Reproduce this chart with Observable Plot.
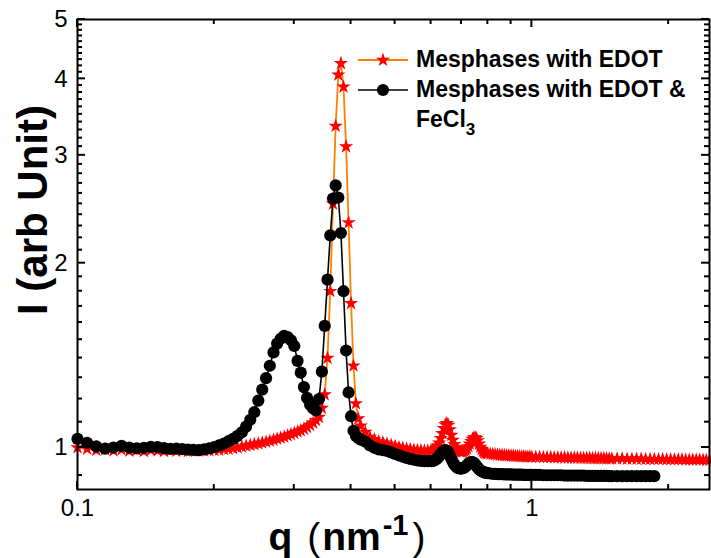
<!DOCTYPE html>
<html><head><meta charset="utf-8">
<script src="https://cdn.jsdelivr.net/npm/d3@7"></script>
<script src="https://cdn.jsdelivr.net/npm/@observablehq/plot@0.6"></script>
<style>
body{margin:0;background:#fff}
svg{font-family:"Liberation Sans",Arial,sans-serif}
</style>
</head><body><div id="chart"></div>
<script>
// ---- data (q in nm^-1, intensity in arb. units) ----
const qLow = [
0.100,0.105,0.110,0.115,0.120,0.125,0.130,0.135,0.140,0.145,
0.150,0.155,0.160,0.165,0.170,0.175,0.180,0.185,0.190,0.195,
0.200,0.205,0.210,0.215,0.220,0.225,0.230,0.235,0.240,0.245,
0.250,0.255,0.260,0.265,0.270,0.275,0.280,0.285,0.290,0.295,
0.300,0.305,0.310,0.315,0.320,0.325,0.330,0.335,0.340,0.345,
0.350,0.355,0.360,0.365,0.370,0.375,0.380,0.385,0.390,0.395,
0.400,0.405,0.410,0.415,0.420];
const edotLow = [
1.000,0.995,0.990,0.993,0.988,0.992,0.987,0.990,0.986,0.990,
0.988,0.986,0.989,0.987,0.988,0.986,0.988,0.987,0.988,0.989,
0.990,0.991,0.993,0.995,0.997,1.000,1.003,1.006,1.009,1.012,
1.015,1.018,1.021,1.025,1.029,1.033,1.037,1.041,1.046,1.051,
1.056,1.061,1.066,1.073,1.080,1.088,1.097,1.108,1.121,1.160,
1.220,1.400,1.800,2.500,3.350,4.060,4.240,3.880,3.100,2.330,
1.720,1.360,1.180,1.115,1.085];
const fecl3Low = [
1.033,1.018,1.004,0.996,1.000,1.006,1.000,0.997,0.999,1.003,
1.002,0.998,0.995,0.996,0.994,0.992,0.991,0.990,0.993,0.997,
1.002,1.008,1.015,1.024,1.033,1.045,1.059,1.082,1.110,1.142,
1.193,1.243,1.298,1.360,1.430,1.478,1.505,1.522,1.515,1.497,
1.465,1.385,1.325,1.255,1.205,1.175,1.158,1.150,1.200,1.330,
1.580,1.880,2.220,2.550,2.680,2.560,2.240,1.800,1.440,1.230,
1.125,1.065,1.045,1.037,1.030];
const qHigh = [
0.43,0.44,0.45,0.46,0.47,0.48,0.49,0.50,0.51,0.52,0.53,0.54,0.55,0.56,0.57,0.58,0.59,0.60,
0.605,0.61,0.615,0.62,0.625,0.63,0.635,0.64,0.645,0.65,0.655,0.66,0.665,0.67,0.675,0.68,0.685,0.69,0.695,0.70,
0.705,0.71,0.715,0.72,0.725,0.73,0.735,0.74,0.745,0.75,0.755,0.76,0.765,0.77,0.775,0.78,0.785,0.79,0.795,0.80,
0.81,0.82,0.83,0.84,0.85,0.86,0.87,0.88,0.89,0.90,0.91,0.92,0.93,0.94,0.95,0.96,0.97,0.98,0.99,1.00,
1.02,1.04,1.06,1.08,1.10,1.12,1.14,1.16,1.18,1.20,1.22,1.24,1.26,1.28,1.30,1.32,1.34,1.36,1.38,1.40,1.42,1.44,1.46,1.48,1.50,
1.54,1.58,1.62,1.66,1.70,1.74,1.78,1.82,1.86,1.90,1.94,1.98,2.02,2.06,2.10,2.14,2.18,2.22,2.26,2.30,2.34,2.38,2.42,2.46];
const edotHigh = [
1.060,1.040,1.031,1.024,1.019,1.014,1.009,1.005,1.001,0.998,0.995,0.993,0.991,0.990,0.989,0.988,0.988,0.989,
0.990,0.993,0.998,1.006,1.018,1.035,1.055,1.075,1.090,1.095,1.088,1.070,1.048,1.028,1.012,1.000,0.992,0.987,0.985,0.984,
0.985,0.987,0.990,0.996,1.004,1.014,1.024,1.032,1.037,1.038,1.035,1.026,1.014,1.002,0.993,0.986,0.982,0.980,0.978,0.977,
0.976,0.975,0.974,0.973,0.972,0.972,0.971,0.970,0.970,0.969,0.969,0.968,0.968,0.967,0.967,0.967,0.966,0.966,0.966,0.965,
0.965,0.965,0.964,0.964,0.964,0.963,0.963,0.963,0.963,0.962,0.962,0.962,0.962,0.961,0.961,0.961,0.961,0.960,0.960,0.960,0.960,0.960,0.959,0.959,0.959,
0.959,0.959,0.958,0.958,0.958,0.958,0.957,0.957,0.957,0.957,0.957,0.956,0.956,0.956,0.956,0.956,0.955,0.955,0.955,0.955,0.955,0.955,0.954,0.954];
const fecl3High = [
1.022,1.008,0.999,0.993,0.990,0.987,0.982,0.976,0.971,0.966,0.962,0.958,0.955,0.953,0.951,0.950,0.950,0.950,
0.951,0.953,0.956,0.961,0.968,0.976,0.983,0.988,0.990,0.988,0.980,0.970,0.958,0.947,0.938,0.932,0.927,0.925,0.924,0.924,
0.925,0.927,0.931,0.936,0.941,0.945,0.947,0.947,0.944,0.939,0.933,0.927,0.922,0.918,0.915,0.913,0.911,0.910,0.909,0.908,
0.907,0.906,0.906,0.905,0.905,0.905,0.904,0.904,0.904,0.904,0.903,0.903,0.903,0.903,0.903,0.902,0.902,0.902,0.902,0.902,
0.902,0.902,0.901,0.901,0.901,0.901,0.901,0.901,0.900,0.900,0.900,0.900,0.900,0.900,0.900,0.899,0.899,0.899,0.899,0.899,0.899,0.899,0.899,0.898,0.898,
0.898,0.898,0.898,0.898,0.898,0.898,0.898,0.898,0.898];

const seriesNames = ["Mesphases with EDOT", "Mesphases with EDOT &", "FeCl"];
const xTickLabels = [0.1, 1];
const xMinorTicks = [0.2,0.3,0.4,0.5,0.6,0.7,0.8,0.9,2];
const yTickLabels = [1, 2, 3, 4, 5];
const yMinorTicks = [0.9,1.1,1.2,1.3,1.4,1.5,1.6,1.7,1.8,1.9,2.1,2.2,2.3,2.4,2.5,2.6,2.7,2.8,2.9,
                     3.1,3.2,3.3,3.4,3.5,3.6,3.7,3.8,3.9,4.1,4.2,4.3,4.4,4.5,4.6,4.7,4.8,4.9];

// ---- build tables ----
const edot = qLow.map((q, i) => ({q, I: edotLow[i]}))
  .concat(qHigh.map((q, i) => ({q, I: edotHigh[i]})));
const fecl3 = qLow.map((q, i) => ({q, I: fecl3Low[i]}))
  .concat(fecl3High.map((v, i) => ({q: qHigh[i], I: v})));

const W = 711, H = 558, mL = 77, mR = 2, mT = 19, mB = 69;
const RED = "#ff0000", ORANGE = "#ff8000";
const starR = 4.5, dotR = 6.1;

const plot = Plot.plot({
  width: W, height: H,
  marginLeft: mL, marginRight: mR, marginTop: mT, marginBottom: mB,
  style: {fontFamily: "Liberation Sans, Arial, sans-serif", fontSize: "24px", background: "#fff", color: "#000", overflow: "visible"},
  x: {type: "log", domain: [0.1, 2.46]},
  y: {type: "log", domain: [0.854, 5]},
  marks: [
    Plot.line(edot, {x: "q", y: "I", stroke: ORANGE, strokeWidth: 1.8}),
    Plot.dot(edot, {x: "q", y: "I", symbol: "star", r: starR, fill: RED, stroke: "none"}),
    Plot.line(fecl3, {x: "q", y: "I", stroke: "#000", strokeWidth: 1.6}),
    Plot.dot(fecl3, {x: "q", y: "I", symbol: "circle", r: dotR, fill: "#000", stroke: "none"}),
    Plot.axisX({ticks: xTickLabels, tickSize: 0, tickPadding: 9, fontSize: 24, tickFormat: d => String(d), label: null}),
    Plot.axisY({ticks: yTickLabels, tickSize: 0, tickPadding: 10, fontSize: 24, tickFormat: d => String(d), label: null}),
    Plot.frame({stroke: "#000", strokeWidth: 2})
  ]
});
document.getElementById("chart").append(plot);

const sx = plot.scale("x"), sy = plot.scale("y");
const svg = d3.select(plot);
const x0 = mL, x1 = W - mR, y0 = H - mB, y1 = mT;
const tg = svg.append("g").attr("stroke", "#000").attr("stroke-width", 2);
function xt(v, len) {
  const x = sx.apply(v);
  tg.append("line").attr("x1", x).attr("x2", x).attr("y1", y0).attr("y2", y0 - len);
  tg.append("line").attr("x1", x).attr("x2", x).attr("y1", y1).attr("y2", y1 + len);
}
function yt(v, len) {
  const y = sy.apply(v);
  tg.append("line").attr("y1", y).attr("y2", y).attr("x1", x0).attr("x2", x0 + len);
  tg.append("line").attr("y1", y).attr("y2", y).attr("x1", x1).attr("x2", x1 - len);
}
xTickLabels.forEach(v => xt(v, 8));
xMinorTicks.forEach(v => xt(v, 5));
yTickLabels.forEach(v => yt(v, 8));
yMinorTicks.forEach(v => yt(v, 5));

// axis titles
const xl = svg.append("text").attr("x", 347).attr("y", 550).attr("text-anchor", "middle")
  .attr("font-size", 39).attr("font-weight", "bold").attr("fill", "#000");
xl.append("tspan").text("q ");
xl.append("tspan").attr("dx", 4).attr("font-weight", "normal").text("(");
xl.append("tspan").attr("dx", 2).text("nm");
xl.append("tspan").attr("dx", 2).attr("dy", -15).attr("font-size", 29).text("-1");
xl.append("tspan").attr("dx", 4).attr("dy", 15).attr("font-weight", "normal").text(")");

svg.append("text").attr("transform", "translate(47,210) rotate(-90)").attr("text-anchor", "middle")
  .attr("font-size", 42).attr("font-weight", "bold").attr("fill", "#000").text("I (arb Unit)");

// legend
const lg = svg.append("g");
const lx0 = 358, lx1 = 408, lxs = 383, ltx = 416;
lg.append("line").attr("x1", lx0).attr("x2", lx1).attr("y1", 60).attr("y2", 60).attr("stroke", ORANGE).attr("stroke-width", 1.8);
lg.append("path").attr("d", d3.symbol(d3.symbolStar, Math.PI * starR * starR)()).attr("transform", `translate(${lxs},60)`).attr("fill", RED);
lg.append("line").attr("x1", lx0).attr("x2", lx1).attr("y1", 90).attr("y2", 90).attr("stroke", "#000").attr("stroke-width", 1.6);
lg.append("circle").attr("cx", lxs).attr("cy", 90).attr("r", dotR).attr("fill", "#000");
const lt = lg.append("g").attr("font-size", 23).attr("font-weight", "bold").attr("fill", "#000").attr("text-anchor", "start");
lt.append("text").attr("x", ltx).attr("y", 67).text(seriesNames[0]);
lt.append("text").attr("x", ltx).attr("y", 97).text(seriesNames[1]);
const l3 = lt.append("text").attr("x", ltx).attr("y", 127);
l3.append("tspan").text(seriesNames[2]);
l3.append("tspan").attr("dy", 8).attr("font-size", 17).text("3");
</script>
</body></html>
